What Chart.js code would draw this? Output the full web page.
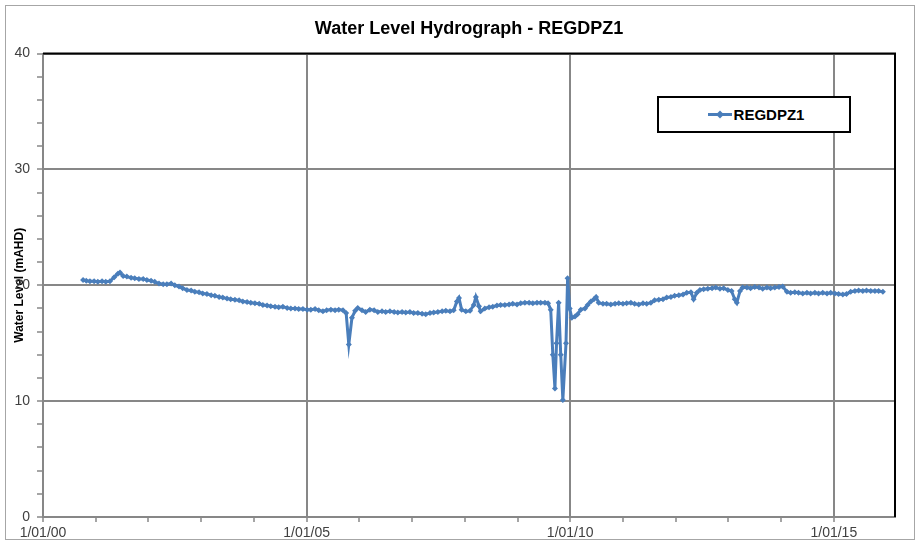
<!DOCTYPE html>
<html>
<head>
<meta charset="utf-8">
<script src="https://cdn.jsdelivr.net/npm/chart.js@4"></script>
<style>
  html, body { margin: 0; padding: 0; background: #fff; }
  #wrap { position: relative; width: 921px; height: 548px; }
  #frame { position: absolute; left: 5px; top: 5px; width: 908px; height: 533px; border: 1px solid #a6a6a6; pointer-events: none; }
  #legend {
    position: absolute; left: 657px; top: 96px; width: 190px; height: 33px;
    border: 2px solid #000; background: #fff;
    display: flex; align-items: center; justify-content: center;
    font: bold 15px "Liberation Sans", Arial, sans-serif; color: #000;
  }
  #legend svg { margin-right: 2px; margin-left: 4px; }
</style>
</head>
<body>
<div id="wrap">
  <canvas id="chart" width="921" height="548"></canvas>
  <div id="frame"></div>
  <div id="legend">
    <svg width="24" height="9"><line x1="0" y1="4.5" x2="24" y2="4.5" stroke="#4a7ebb" stroke-width="3"/><polygon points="12,0.5 16,4.5 12,8.5 8,4.5" fill="#4a7ebb"/></svg>
    <span>REGDPZ1</span>
  </div>
</div>
<script>
// x = years since 1/01/2000, y = water level (mAHD)
const years = [
  0.76, 0.82, 0.89, 0.97, 1.04, 1.12, 1.19, 1.27, 1.35, 1.42, 1.46, 1.52, 1.59, 1.67, 1.74, 1.82, 1.90, 1.97,
  2.05, 2.12, 2.20, 2.28, 2.35, 2.43, 2.50, 2.58, 2.65, 2.73, 2.81, 2.88, 2.96, 3.03, 3.11, 3.19, 3.26, 3.34,
  3.41, 3.49, 3.56, 3.64, 3.72, 3.79, 3.87, 3.94, 4.02, 4.10, 4.17, 4.25, 4.32, 4.40, 4.47, 4.55, 4.63, 4.70,
  4.78, 4.85, 4.93, 5.01, 5.08, 5.16, 5.23, 5.31, 5.38, 5.46, 5.54, 5.61, 5.69, 5.75, 5.80, 5.86, 5.92, 5.97,
  6.05, 6.12, 6.20, 6.28, 6.35, 6.43, 6.50, 6.58, 6.66, 6.73, 6.81, 6.88, 6.96, 7.03, 7.11, 7.19, 7.26, 7.34,
  7.41, 7.49, 7.57, 7.64, 7.72, 7.79, 7.85, 7.89, 7.94, 8.02, 8.10, 8.17, 8.21, 8.27, 8.30, 8.38, 8.46, 8.53,
  8.61, 8.68, 8.76, 8.84, 8.91, 8.99, 9.06, 9.14, 9.22, 9.29, 9.37, 9.44, 9.52, 9.58, 9.63, 9.67, 9.71, 9.74,
  9.78, 9.82, 9.86, 9.92, 9.95, 9.99, 10.03, 10.09, 10.14, 10.20, 10.28, 10.33, 10.39, 10.45, 10.49, 10.54,
  10.62, 10.69, 10.77, 10.85, 10.92, 11.00, 11.07, 11.15, 11.22, 11.30, 11.38, 11.45, 11.53, 11.60, 11.68,
  11.76, 11.83, 11.91, 11.98, 12.06, 12.14, 12.21, 12.29, 12.34, 12.40, 12.46, 12.53, 12.61, 12.69, 12.76,
  12.84, 12.91, 12.99, 13.06, 13.12, 13.16, 13.22, 13.27, 13.35, 13.42, 13.50, 13.58, 13.65, 13.73, 13.80,
  13.88, 13.96, 14.03, 14.11, 14.18, 14.26, 14.33, 14.41, 14.49, 14.56, 14.64, 14.71, 14.79, 14.87, 14.94,
  15.02, 15.09, 15.17, 15.24, 15.32, 15.40, 15.47, 15.55, 15.62, 15.70, 15.78, 15.85, 15.93
];
const levels = [
  20.45, 20.4, 20.35, 20.35, 20.3, 20.35, 20.3, 20.35, 20.7, 21.0, 21.1, 20.8, 20.75, 20.65, 20.6, 20.55, 20.55, 20.45,
  20.4, 20.3, 20.15, 20.1, 20.1, 20.15, 20.0, 19.9, 19.75, 19.6, 19.55, 19.45, 19.4, 19.3, 19.25, 19.15, 19.1, 19.0,
  18.95, 18.85, 18.8, 18.75, 18.7, 18.6, 18.55, 18.5, 18.45, 18.4, 18.3, 18.25, 18.2, 18.15, 18.1, 18.15, 18.05, 18.0,
  18.0, 17.95, 17.95, 17.9, 17.9, 17.95, 17.85, 17.75, 17.85, 17.9, 17.85, 17.9, 17.85, 17.6, 14.9, 17.2, 17.8, 18.05,
  17.85, 17.7, 17.9, 17.85, 17.7, 17.75, 17.7, 17.75, 17.7, 17.65, 17.7, 17.65, 17.7, 17.6, 17.6, 17.55, 17.5, 17.6,
  17.65, 17.7, 17.75, 17.8, 17.75, 17.85, 18.6, 18.9, 17.9, 17.75, 17.8, 18.3, 19.0, 18.2, 17.75, 18.0, 18.1, 18.15,
  18.25, 18.3, 18.3, 18.35, 18.4, 18.35, 18.45, 18.5, 18.5, 18.45, 18.5, 18.5, 18.5, 18.45, 17.9, 14.0, 11.1, 15.0,
  18.5, 14.0, 10.1, 15.0, 20.6, 18.0, 17.2, 17.3, 17.5, 17.9, 18.0, 18.3, 18.6, 18.8, 19.0, 18.5,
  18.4, 18.4, 18.35, 18.4, 18.45, 18.4, 18.45, 18.5, 18.4, 18.35, 18.45, 18.4, 18.5, 18.7, 18.75,
  18.8, 18.95, 19.0, 19.1, 19.15, 19.2, 19.35, 19.4, 18.8, 19.35, 19.6, 19.65, 19.7, 19.75, 19.8,
  19.7, 19.75, 19.6, 19.5, 18.8, 18.5, 19.5, 19.8, 19.8, 19.75, 19.85, 19.8, 19.7, 19.8, 19.75,
  19.8, 19.85, 19.9, 19.45, 19.35, 19.4, 19.35, 19.3, 19.35, 19.3, 19.35, 19.3, 19.35, 19.3, 19.35,
  19.3, 19.25, 19.2, 19.25, 19.45, 19.5, 19.55, 19.5, 19.55, 19.5, 19.5, 19.5, 19.45
];
const seriesName = 'REGDPZ1';
const chartTitle = 'Water Level Hydrograph - REGDPZ1';
const yTitle = 'Water Level (mAHD)';
const xMin = 0, xMax = 16.16;
const yMin = 0, yMax = 40;

const GRID = '#878787';
const LINE = '#4a7ebb';

// black top/right border of the plot area
const plotBorder = {
  id: 'plotBorder',
  afterDraw(chart) {
    const { ctx, chartArea: a } = chart;
    ctx.save();
    ctx.strokeStyle = '#000';
    ctx.lineWidth = 2;
    ctx.beginPath();
    ctx.moveTo(a.left, a.top);
    ctx.lineTo(a.right, a.top);
    ctx.lineTo(a.right, a.bottom);
    ctx.stroke();
    ctx.restore();
  }
};

new Chart(document.getElementById('chart'), {
  type: 'line',
  data: {
    datasets: [{
      label: seriesName,
      data: years.map((x, i) => ({ x, y: levels[i] })),
      borderColor: LINE,
      backgroundColor: LINE,
      borderWidth: 3,
      pointStyle: 'rectRot',
      pointRadius: 3,
      pointBorderWidth: 0,
      tension: 0
    }]
  },
  options: {
    responsive: false,
    animation: false,
    layout: { padding: { left: 0, right: 26, top: 0, bottom: 0 } },
    plugins: {
      legend: { display: false },
      tooltip: { enabled: false },
      title: {
        display: true,
        fullSize: false,
        text: chartTitle,
        color: '#000',
        font: { family: 'Liberation Sans', size: 18, weight: 'bold' },
        padding: { top: 18, bottom: 14 }
      }
    },
    scales: {
      x: {
        type: 'linear',
        min: xMin,
        max: xMax,
        afterBuildTicks: s => { s.ticks = s.ticks.filter(t => Number.isInteger(t.value)); },
        afterFit: s => { s.height = 31; },
        ticks: {
          stepSize: 1,
          autoSkip: false,
          maxRotation: 0,
          padding: 3,
          color: '#404040',
          font: { family: 'Liberation Sans', size: 14 },
          callback: v => v % 5 === 0 ? '1/01/' + String(v).padStart(2, '0') : ''
        },
        grid: {
          color: c => (c.tick && c.tick.value % 5 === 0) ? GRID : 'rgba(0,0,0,0)',
          lineWidth: 2,
          tickColor: GRID,
          tickLength: 5,
          tickWidth: 1.5
        },
        border: { color: GRID, width: 2 }
      },
      y: {
        min: yMin,
        max: yMax,
        afterBuildTicks: s => { s.ticks = s.ticks.filter(t => Number.isInteger(t.value)); },
        afterFit: s => { s.width = 43; },
        ticks: {
          stepSize: 2,
          autoSkip: false,
          padding: 7,
          color: '#404040',
          font: { family: 'Liberation Sans', size: 14 },
          callback: v => v % 10 === 0 ? String(v) : ''
        },
        grid: {
          color: c => (c.tick && c.tick.value % 10 === 0) ? GRID : 'rgba(0,0,0,0)',
          lineWidth: 2,
          tickColor: GRID,
          tickLength: 6,
          tickWidth: 1.5
        },
        border: { color: GRID, width: 2 },
        title: {
          display: true,
          text: yTitle,
          color: '#000',
          font: { family: 'Liberation Sans', size: 12, weight: 'bold' },
          padding: { top: 12, bottom: 0 }
        }
      }
    }
  },
  plugins: [plotBorder]
});
</script>
</body>
</html>
